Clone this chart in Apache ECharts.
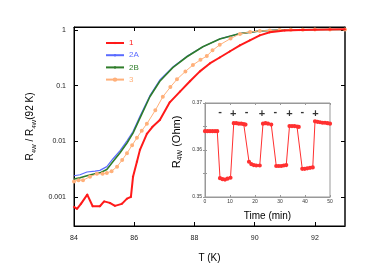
<!DOCTYPE html>
<html><head><meta charset="utf-8">
<script src="https://cdn.jsdelivr.net/npm/echarts@6/dist/echarts.min.js"></script>
<style>html,body{margin:0;padding:0;background:#fff}#c{width:390px;height:280px}</style>
</head><body><div id="c"></div>
<script>
// ---- main chart data: T (K) vs R4W/R4W(92K) ----
var t1 = [84.0,84.1,84.23,84.44,84.62,84.86,85.0,85.19,85.36,85.59,85.76,85.89,85.96,86.09,86.19,86.42,86.6,86.85,87.18,87.52,87.85,88.18,88.51,88.84,89.17,89.51,89.84,90.17,90.5,91.0,91.5,92.0,92.5,93.0];
var v1 = [0.00066,0.00061,0.00075,0.0011,0.00068,0.00068,0.00083,0.00078,0.00069,0.00075,0.00093,0.0010,0.0023,0.0043,0.0070,0.0136,0.018,0.024,0.050,0.078,0.12,0.18,0.25,0.32,0.41,0.53,0.65,0.80,0.91,0.98,1.0,1.01,1.02,1.03];
var t2A = [84.0,84.2,84.43,84.7,84.86,85.09,85.29,85.53,85.76,85.96,86.19,86.52,86.85,87.28,87.75,88.28,88.84,89.51,90.17,90.83,91.5,92.2,93.0];
var v2A = [0.0024,0.0025,0.0028,0.0029,0.0030,0.0035,0.0048,0.0068,0.0102,0.015,0.028,0.066,0.126,0.215,0.335,0.50,0.69,0.86,0.96,1.0,1.01,1.02,1.02];
var t2B = [84.0,84.2,84.43,84.7,84.86,85.09,85.29,85.53,85.76,85.96,86.19,86.52,86.85,87.28,87.75,88.28,88.84,89.51,90.17,90.83,91.5,92.2,93.0];
var v2B = [0.0021,0.0022,0.0024,0.0026,0.0027,0.0031,0.0043,0.0062,0.0093,0.014,0.026,0.063,0.12,0.21,0.33,0.50,0.69,0.86,0.96,1.0,1.01,1.02,1.02];
var t3 = [84.0,84.15,84.3,84.53,84.76,84.95,85.09,85.25,85.43,85.6,85.76,85.93,86.09,86.25,86.42,86.7,86.95,87.2,87.42,87.7,87.95,88.2,88.41,88.6,88.84,89.2,89.51,89.85,90.17,90.5,90.83,91.2,91.6,92.0,92.5,93.0];
var v3 = [0.0019,0.0020,0.0020,0.0023,0.0026,0.0026,0.0027,0.0029,0.0035,0.0046,0.0061,0.0085,0.0115,0.0155,0.0206,0.036,0.063,0.094,0.13,0.18,0.235,0.29,0.34,0.43,0.54,0.70,0.85,0.92,0.96,0.98,1.0,1.01,1.01,1.02,1.02,1.02];
var seriesNames = ['1','2A','2B','3'];
var xTicks = [84,86,88,90,92];
var yTickLabels = ['0.001','0.01','0.1','1'];

// ---- inset data: time (min) vs R4W (Ohm) ----
var tIn = [0,1,2,3,4,4.9,6,7,8,9,10.2,11.5,12.5,13.5,14.5,15.5,16.2,17.6,18.5,19.5,20.5,21.9,23.2,24.2,25.2,26.5,28.5,29.5,30.5,31.5,32.5,33.8,34.8,35.8,36.8,37.5,38.9,39.9,40.9,42,43.1,44,45,46,47,48,49,50];
var rIn = [0.3640,0.3640,0.3640,0.3640,0.3640,0.3640,0.3540,0.3538,0.3537,0.3539,0.3541,0.3657,0.3657,0.3656,0.3656,0.3655,0.3654,0.3575,0.3570,0.3568,0.3567,0.3567,0.3656,0.3657,0.3656,0.3654,0.3566,0.3566,0.3566,0.3567,0.3568,0.3651,0.3651,0.3651,0.3650,0.3649,0.3560,0.3560,0.3561,0.3562,0.3563,0.3661,0.3660,0.3659,0.3658,0.3658,0.3657,0.3656];
var signT = [6,11.3,16.6,22.8,28.1,33.8,38.9,44.2];
var signY = [0.3680,0.3676,0.3680,0.3676,0.3680,0.3676,0.3680,0.3676];
var signText = ['-','+','-','+','-','+','-','+'];

function pairs(a,b){var o=[];for(var i=0;i<a.length;i++)o.push([a[i],b[i]]);return o;}

var colors = {'1':'#ff1a1a','2A':'#5a6bff','2B':'#2f7d2a','3':'#ffb07a'};
var FONT = 'Liberation Sans, Arial, sans-serif';

var chart = echarts.init(document.getElementById('c'), null, {renderer:'canvas'});
var option = {
  animation:false,
  textStyle:{fontFamily:FONT},
  grid:[
    {left:74, top:27, width:271, height:199, show:true, borderColor:'#000', borderWidth:1, backgroundColor:'transparent'},
    {left:205, top:103, width:125, height:94, show:true, borderColor:'#999', borderWidth:1, backgroundColor:'#fff', z:5}
  ],
  legend:{
    orient:'vertical', left:105, top:39, padding:0, itemWidth:18, itemHeight:3, itemGap:4.2,
    itemStyle:{borderWidth:0.6},
    textStyle:{fontSize:8, fontFamily:FONT},
    data: seriesNames.map(function(n){return {name:n, textStyle:{color:colors[n]}};})
  },
  xAxis:[
    {type:'value', gridIndex:0, min:84, max:93, interval:2, name:'T (K)', nameLocation:'middle', nameGap:27,
     nameTextStyle:{fontSize:10, color:'#000', fontFamily:FONT},
     axisLine:{show:true, lineStyle:{color:'#000'}}, axisTick:{inside:true, length:4, lineStyle:{color:'#000'}},
     axisLabel:{fontSize:7, color:'#222', margin:9, showMaxLabel:false,
       formatter:function(v){return xTicks.indexOf(v)>=0?String(v):'';}},
     splitLine:{show:false}},
    {type:'value', gridIndex:0, position:'top', min:84, max:93, interval:2,
     axisLine:{show:true, lineStyle:{color:'#000'}}, axisTick:{inside:true, length:4, lineStyle:{color:'#000'}},
     axisLabel:{show:false}, splitLine:{show:false}},
    {type:'value', gridIndex:1, min:0, max:50, interval:10, name:'Time (min)', nameLocation:'middle', nameGap:14,
     nameTextStyle:{fontSize:10, color:'#000', fontFamily:FONT},
     axisLine:{show:true, lineStyle:{color:'#999'}}, axisTick:{inside:true, length:2, lineStyle:{color:'#999'}},
     axisLabel:{fontSize:5, color:'#333', margin:2}, splitLine:{show:false}, z:6},
    {type:'value', gridIndex:1, position:'top', min:0, max:50, interval:10,
     axisLine:{show:true, lineStyle:{color:'#999'}}, axisTick:{inside:true, length:2, lineStyle:{color:'#999'}},
     axisLabel:{show:false}, splitLine:{show:false}, z:6}
  ],
  yAxis:[
    {type:'log', gridIndex:0, min:0.0003, max:1.13, logBase:10,
     name:'R{s|4W} / R{s|4W}(92 K)', nameLocation:'middle', nameGap:33, nameRotate:90,
     nameTextStyle:{fontSize:10, color:'#000', fontFamily:FONT, lineHeight:14, verticalAlign:'middle',
       rich:{s:{fontSize:6, lineHeight:6, verticalAlign:'bottom', fontFamily:FONT, color:'#000'}}},
     axisLine:{show:true, lineStyle:{color:'#000'}}, axisTick:{inside:true, length:4, lineStyle:{color:'#000'}},
     axisLabel:{fontSize:7, color:'#222', margin:8, showMinLabel:false, showMaxLabel:false,
       formatter:function(v){var s=String(+v.toPrecision(3));return yTickLabels.indexOf(s)>=0?s:'';}},
     splitLine:{show:false}, minorTick:{show:false}},
    {type:'log', gridIndex:0, position:'right', min:0.0003, max:1.13, logBase:10,
     axisLine:{show:true, lineStyle:{color:'#333', width:1.5}}, axisTick:{inside:true, length:4, lineStyle:{color:'#000'}},
     axisLabel:{show:false}, splitLine:{show:false}},
    {type:'value', gridIndex:1, min:0.35, max:0.37, interval:0.005,
     name:'R{s|4W} (Ohm)', nameLocation:'middle', nameGap:21, nameRotate:90,
     nameTextStyle:{fontSize:11, color:'#000', fontFamily:FONT, lineHeight:15, padding:[0,0,0,16],
       rich:{s:{fontSize:7, lineHeight:7, verticalAlign:'bottom', fontFamily:FONT, color:'#000'}}},
     axisLine:{show:true, lineStyle:{color:'#999'}}, axisTick:{inside:true, length:2, lineStyle:{color:'#999'}},
     axisLabel:{fontSize:5, color:'#333', margin:3,
       formatter:function(v){var s=v.toFixed(3);return (s==='0.350'||s==='0.360'||s==='0.370')?s.slice(0,4):'';}},
     splitLine:{show:false}, z:6},
    {type:'value', gridIndex:1, position:'right', min:0.35, max:0.37, interval:0.005,
     axisLine:{show:true, lineStyle:{color:'#999'}}, axisTick:{inside:true, length:2, lineStyle:{color:'#999'}},
     axisLabel:{show:false}, splitLine:{show:false}, z:6}
  ],
  series:[
    {name:'1', type:'line', xAxisIndex:0, yAxisIndex:0, data:pairs(t1,v1), showSymbol:true, symbol:'diamond', symbolSize:2.5,
     itemStyle:{color:colors['1']}, lineStyle:{width:2, color:colors['1']}, z:4},
    {name:'2A', type:'line', xAxisIndex:0, yAxisIndex:0, data:pairs(t2A,v2A), symbol:'none',
     itemStyle:{color:colors['2A']}, lineStyle:{width:1.2, color:colors['2A']}, z:2},
    {name:'2B', type:'line', xAxisIndex:0, yAxisIndex:0, data:pairs(t2B,v2B), symbol:'none',
     itemStyle:{color:colors['2B']}, lineStyle:{width:1.6, color:colors['2B']}, z:3},
    {name:'3', type:'line', xAxisIndex:0, yAxisIndex:0, data:pairs(t3,v3), showSymbol:true, symbol:'emptyCircle', symbolSize:2,
     itemStyle:{color:colors['3'], borderWidth:0.8}, lineStyle:{width:1, color:colors['3']}, z:3},
    {name:'inset', type:'line', xAxisIndex:2, yAxisIndex:2, data:pairs(tIn,rIn), showSymbol:true, symbol:'emptyCircle', symbolSize:2.2,
     itemStyle:{color:'#ff3030', borderWidth:0.8}, lineStyle:{width:1, color:'#ff3030'}, z:7},
    {name:'signs', type:'scatter', xAxisIndex:2, yAxisIndex:2, symbolSize:0, z:8,
     data: signT.map(function(t,i){return {value:[t,signY[i]], label:{show:true, formatter:signText[i]}};}),
     label:{show:true, position:'inside', color:'#000', fontSize:11, fontFamily:FONT, fontWeight:'bold'}}
  ]
};
chart.setOption(option);
</script></body></html>
